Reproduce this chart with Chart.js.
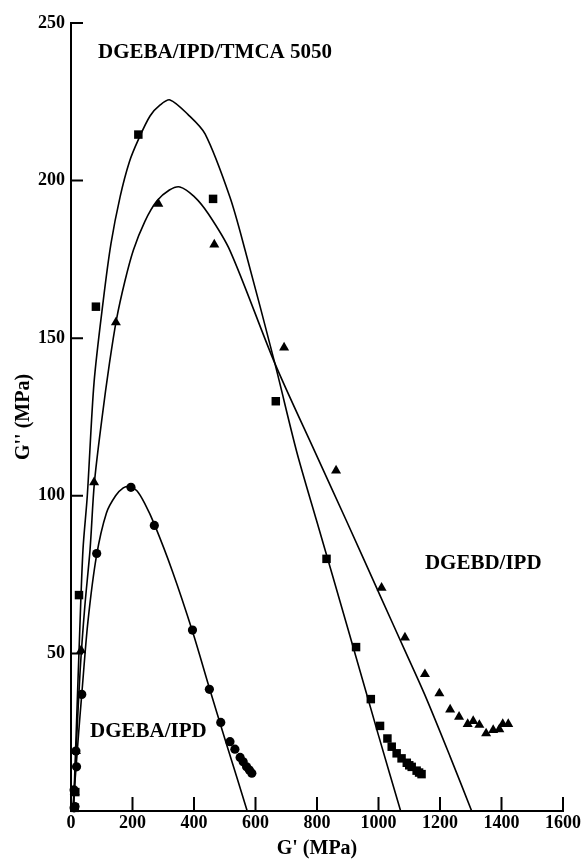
<!DOCTYPE html>
<html>
<head>
<meta charset="utf-8">
<script src="https://cdn.jsdelivr.net/npm/chart.js@4.4.0/dist/chart.umd.min.js"></script>
<style>
	html, body { margin:0; padding:0; background:#fff; }
</style>
</head>
<body>
<canvas id="chartId" width="585" height="861"></canvas>
<script>
// axis ticks
const xTicks = [0, 200, 400, 600, 800, 1000, 1200, 1400, 1600]
const yTicks = [0, 50, 100, 150, 200, 250]

// DGEBA/IPD/TMCA 5050 - squares
const tmcaX = [12, 14, 26, 81, 219, 462, 666, 831, 927, 975, 1005, 1029, 1043, 1059, 1075, 1092, 1100, 1108, 1124, 1132, 1140]
const tmcaY = [1, 6, 68.5, 160, 214.6, 194.2, 130, 80, 52, 35.5, 27, 23, 20.4, 18.3, 16.7, 15.3, 14.5, 14, 12.8, 12.2, 11.7]
const tmcaFitX = [8, 18, 28, 39, 53, 75, 105, 130, 160, 190, 219, 257, 290, 322, 380, 436, 517, 566, 663, 734, 799, 900, 1000, 1072]
const tmcaFitY = [0, 28, 56, 83, 100, 136, 162, 180, 195, 206, 213, 220.5, 224, 225.6, 221, 214.8, 194.7, 178, 142, 114, 92, 58, 24, 0]

// DGEBD/IPD - triangles
const dgebdX = [12, 16, 33, 75, 146, 284, 466, 693, 862, 1010, 1086, 1151, 1198, 1233, 1262, 1290, 1308, 1328, 1350, 1373, 1393, 1404, 1422]
const dgebdY = [6, 19, 51, 104.3, 155, 192.6, 179.7, 147, 108, 70.8, 55, 43.4, 37.3, 32.2, 29.9, 27.6, 28.5, 27.3, 24.6, 25.7, 25.9, 27.6, 27.6]
const dgebdFitX = [8, 18, 30, 45, 62, 76, 100, 125, 148, 175, 203, 240, 279, 320, 354, 400, 447, 517, 663, 793, 896, 1010, 1086, 1150, 1232, 1303]
const dgebdFitY = [0, 22, 45, 65, 83, 104, 124, 142, 156, 168, 178, 187, 193.5, 197, 198, 195, 189.4, 177.8, 142, 114, 92, 67.3, 50.9, 37, 17.5, 0]

// DGEBA/IPD - circles
const dgebaX = [10, 10, 13, 16, 18, 35, 83.5, 195, 271, 395, 450, 487, 517, 533, 550, 560, 571, 580, 588]
const dgebaY = [1, 6.7, 1.4, 19, 14, 37, 81.7, 102.7, 90.6, 57.4, 38.6, 28.1, 22, 19.6, 17, 15.6, 14, 13, 12]
const dgebaFitX = [5, 15, 25, 35, 55, 83, 115, 145, 170, 190, 215, 240, 271, 330, 395, 450, 500, 540, 573]
const dgebaFitY = [0, 12, 25, 37, 60, 81, 94.5, 100, 102.5, 103, 101.5, 97.5, 91, 76, 57, 39, 23, 10.5, 0]

const notes = ['DGEBA/IPD/TMCA 5050', 'DGEBD/IPD', 'DGEBA/IPD']
const notesX = [88, 1151, 62]
const notesY = [240.7, 78.6, 25.1]

const serif = '"Liberation Serif", "Times New Roman", serif'

function pts(xs, ys){
	return xs.map((v, i) => ({x: v, y: ys[i]}))
}

function markers(label, xs, ys, style, r){
	return {
		label: label,
		data: pts(xs, ys),
		showLine: false,
		pointStyle: style,
		pointRadius: r,
		pointBackgroundColor: '#000',
		pointBorderColor: '#000',
		pointBorderWidth: 0,
		clip: false
	}
}

function fit(label, xs, ys){
	return {
		label: label,
		data: pts(xs, ys),
		showLine: true,
		borderColor: '#000',
		borderWidth: 1.6,
		pointRadius: 0,
		tension: 0.3,
		fill: false
	}
}

// ticks inside the frame + the text notes
const extras = {
	id: 'extras',
	afterDatasetsDraw(chart){
		const {ctx, chartArea, scales} = chart
		ctx.save()
		ctx.strokeStyle = '#000'
		ctx.lineWidth = 2
		ctx.beginPath()
		xTicks.forEach(v => {
			if (v === 0) return
			const px = scales.x.getPixelForValue(v)
			ctx.moveTo(px, chartArea.bottom)
			ctx.lineTo(px, chartArea.bottom - 14)
		})
		yTicks.forEach(v => {
			if (v === 0) return
			const py = scales.y.getPixelForValue(v)
			ctx.moveTo(chartArea.left, py)
			ctx.lineTo(chartArea.left + 12, py)
		})
		ctx.stroke()

		ctx.fillStyle = '#000'
		ctx.font = 'bold 21px ' + serif
		ctx.textBaseline = 'middle'
		ctx.textAlign = 'left'
		notes.forEach((t, i) => {
			ctx.fillText(t, scales.x.getPixelForValue(notesX[i]), scales.y.getPixelForValue(notesY[i]))
		})
		ctx.restore()
	}
}

new Chart('chartId', {
	type: 'scatter',
	data: {
		datasets: [
			fit('tmca fit', tmcaFitX, tmcaFitY),
			fit('dgebd fit', dgebdFitX, dgebdFitY),
			fit('dgeba fit', dgebaFitX, dgebaFitY),
			markers('DGEBA/IPD/TMCA 5050', tmcaX, tmcaY, 'rect', 6),
			markers('DGEBD/IPD', dgebdX, dgebdY, 'triangle', 5.8),
			markers('DGEBA/IPD', dgebaX, dgebaY, 'circle', 4.6)
		]
	},
	options: {
		responsive: false,
		devicePixelRatio: 1,
		animation: false,
		layout: { padding: { top: 23, right: 22, bottom: 0, left: 0 } },
		plugins: {
			legend: { display: false },
			tooltip: { enabled: false }
		},
		scales: {
			x: {
				type: 'linear',
				min: 0,
				max: 1600,
				afterBuildTicks: s => { s.ticks = xTicks.map(v => ({value: v})) },
				afterFit: s => { s.height = 50 },
				grid: { display: false, drawTicks: false },
				border: { display: true, color: '#000', width: 2 },
				ticks: {
					color: '#000',
					padding: 2,
					maxRotation: 0,
					callback: v => String(v),
					font: { family: serif, size: 18, weight: 'bold' }
				},
				title: {
					display: true,
					text: "G' (MPa)",
					color: '#000',
					padding: { top: 0, bottom: 0 },
					font: { family: serif, size: 20, weight: 'bold' }
				}
			},
			y: {
				type: 'linear',
				min: 0,
				max: 250,
				afterBuildTicks: s => { s.ticks = yTicks.map(v => ({value: v})) },
				afterFit: s => { s.width = 71 },
				grid: { display: false, drawTicks: false },
				border: { display: true, color: '#000', width: 2 },
				ticks: {
					color: '#000',
					padding: 6,
					callback: v => v === 0 ? '' : String(v),
					font: { family: serif, size: 18, weight: 'bold' }
				},
				title: {
					display: true,
					text: "G'' (MPa)",
					color: '#000',
					padding: { top: 12, bottom: 0 },
					font: { family: serif, size: 20, weight: 'bold' }
				}
			}
		}
	},
	plugins: [extras]
})
</script>
</body>
</html>
